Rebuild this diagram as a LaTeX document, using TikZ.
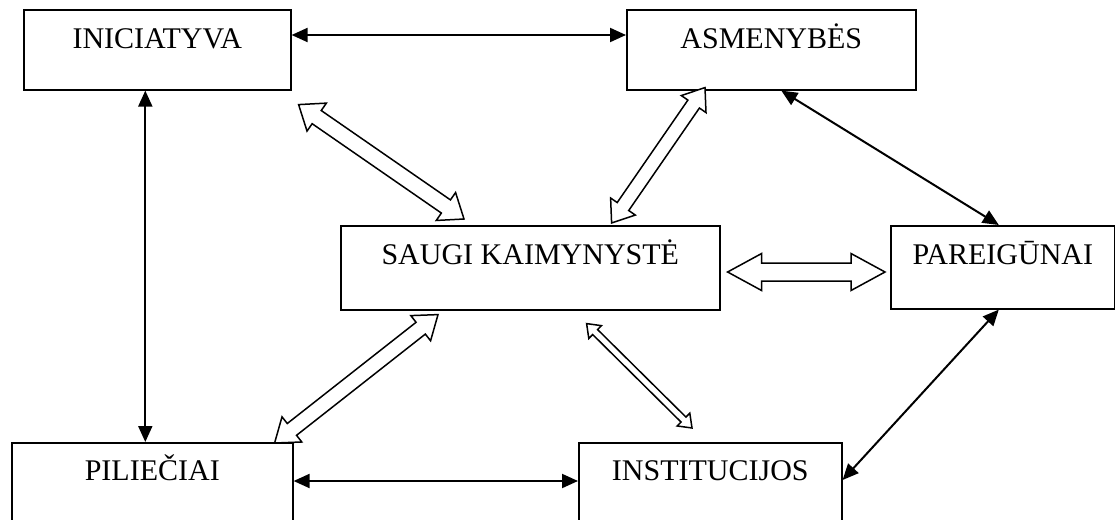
\documentclass[tikz,border=0pt]{standalone}
\usepackage{fontspec}
\setmainfont{Liberation Serif}
\usetikzlibrary{arrows.meta,calc}
\tikzset{
  box/.style={draw, line width=1.6pt, inner sep=0pt, anchor=north west,
    font=\fontsize{30}{35}\selectfont},
  dbl/.style={line width=2pt,
    {Triangle[length=16pt,width=14pt]}-{Triangle[length=16pt,width=14pt]}},
  blk/.style={draw, line width=1.5pt, fill=white, line join=miter},
}
% #1 tip A, #2 tip B, #3 shaft half width, #4 head half width, #5 head length
\newcommand{\blockarr}[5]{%
  \path coordinate (h1) at ($(#1)!#5!(#2)$)
        coordinate (h2) at ($(#2)!#5!(#1)$);
  \draw[blk] (#1) -- ($(h1)!#4!90:(#2)$) -- ($(h1)!#3!90:(#2)$)
    -- ($(h2)!#3!-90:(#1)$) -- ($(h2)!#4!-90:(#1)$) -- (#2)
    -- ($(h2)!#4!90:(#1)$) -- ($(h2)!#3!90:(#1)$)
    -- ($(h1)!#3!-90:(#2)$) -- ($(h1)!#4!-90:(#2)$) -- cycle;
}
\begin{document}
\begin{tikzpicture}[x=1pt,y=-1pt]
\clip (0,0) rectangle (1115,519);
\fill[white] (0,0) rectangle (1115,519);

\node[box, minimum width=267pt, text height=39pt, text depth=41pt] (ini) at (23,9) {INICIATYVA};
\node[box, minimum width=289pt, text height=39pt, text depth=41pt] (asm) at (626,9) {ASMENYBĖS};
\node[box, minimum width=379pt, text height=39pt, text depth=45pt] (sau) at (340,225) {SAUGI KAIMYNYSTĖ};
\node[box, minimum width=224pt, text height=39pt, text depth=44pt] (par) at (890,225) {PAREIGŪNAI};
\node[box, minimum width=281pt, text height=38pt, text depth=90pt] (pil) at (11,442) {PILIEČIAI};
\node[box, minimum width=263pt, text height=38pt, text depth=90pt] (ins) at (578,442) {INSTITUCIJOS};

% plain double arrows
\coordinate (a1) at ($(ini.north east)+(0,26)$);
\coordinate (b1) at ($(asm.north west)+(0,26)$);
\draw[dbl] (a1) -- (b1);

\coordinate (a2) at ($(ini.south)+(-12,0)$);
\draw[dbl] (a2) -- (a2 |- pil.north);

\coordinate (a3) at ($(asm.south)+(10,0)$);
\coordinate (b3) at ($(par.north)+(-4,0)$);
\draw[dbl] (a3) -- (b3);

\coordinate (a4) at ($(par.south)+(-4,0)$);
\coordinate (b4) at ($(ins.north east)+(0,38)$);
\draw[dbl] (a4) -- (b4);

\coordinate (a5) at ($(pil.north east)+(0,39)$);
\coordinate (b5) at ($(ins.north west)+(0,39)$);
\draw[dbl] (a5) -- (b5);

% block double arrows
\coordinate (a6) at ($(ini.south east)+(7,14)$);
\coordinate (b6) at ($(sau.north west)+(124,-6)$);
\blockarr{a6}{b6}{8pt}{17pt}{22pt}

\coordinate (a7) at ($(asm.south west)+(79,-3)$);
\coordinate (b7) at ($(sau.north east)+(-109,-2)$);
\blockarr{a7}{b7}{7pt}{15pt}{20pt}

\coordinate (a8) at ($(sau.north east)+(7,47)$);
\coordinate (b8) at ($(par.north west)+(-5,47)$);
\blockarr{a8}{b8}{9pt}{18.5pt}{34pt}

\coordinate (a9) at ($(sau.south west)+(98,4)$);
\coordinate (b9) at ($(pil.north east)+(-19,1)$);
\blockarr{a9}{b9}{7.5pt}{16pt}{22pt}

\coordinate (a10) at ($(sau.south east)+(-134,13)$);
\coordinate (b10) at ($(ins.north west)+(114,-14)$);
\blockarr{a10}{b10}{3.5pt}{9pt}{12pt}
\end{tikzpicture}
\end{document}
